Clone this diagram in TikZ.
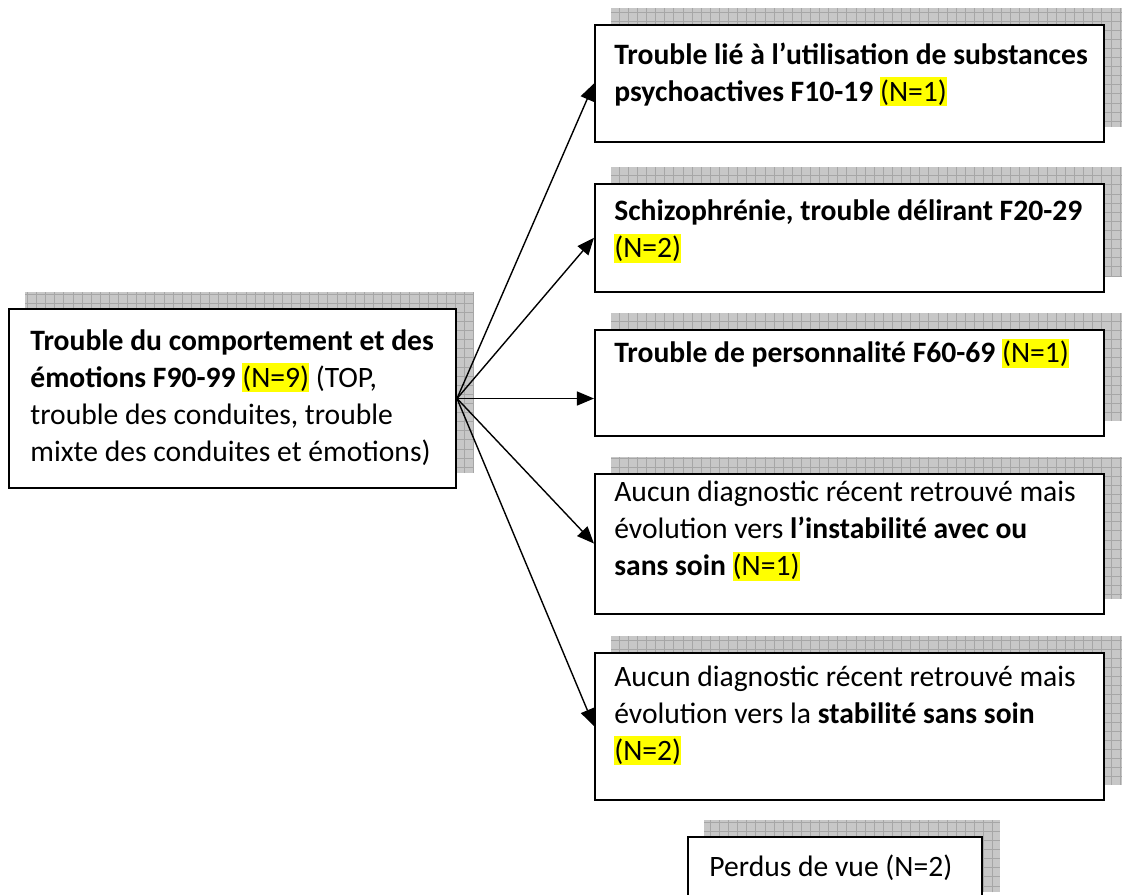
\documentclass[tikz,border=0pt]{standalone}
\usepackage{fontspec}
\setmainfont{Carlito}
\usepackage{xcolor}
\definecolor{marker}{RGB}{255,255,0}
\usepackage{tikz}
\usetikzlibrary{positioning,arrows.meta,backgrounds}
\newcommand{\hlite}[1]{{\setlength{\fboxsep}{0pt}\colorbox{marker}{\rule[-2.5pt]{0pt}{14.5pt}#1}}}

\begin{document}
\begin{tikzpicture}[
  font=\fontsize{14.8}{18.5}\selectfont,
  box/.style={draw, fill=white, line width=1pt, inner sep=0pt,
              minimum width=8.945cm},
  txt/.style={anchor=base west, align=left, inner sep=0pt},
  shade/.style={fill=black!22},
  shadegrid/.style={draw=black!35, line width=0.3pt},
  arrow/.style={-{Triangle[length=8.5pt,width=7pt]}, line width=0.7pt}
]
\useasboundingbox (0,0) rectangle (19.893,15.728);

%% Starting diagnosis
\node (src) [box, anchor=north west, minimum width=7.855cm,
             minimum height=3.146cm] at (0.141,10.315) {};

%% Outcomes
\node (sub) [box, anchor=north west, minimum height=2.056cm] at (10.438,15.306) {};
\node (schizo) [box, below=0.70cm of sub, minimum height=1.898cm] {};
\node (perso) [box, below=0.63cm of schizo, minimum height=1.863cm] {};
\node (instab) [box, below=0.63cm of perso, minimum height=2.460cm] {};
\node (stab) [box, below=0.65cm of instab, minimum height=2.583cm] {};
\node (lost) [box, below=0.63cm of stab, xshift=-0.255cm,
              minimum width=5.166cm, minimum height=1.23cm] {};

%% Shadows behind the boxes
\begin{scope}[on background layer]
  \foreach \b in {src,sub,schizo,perso,instab,stab,lost} {
    \fill[shade] ([shift={(0.3,0.28)}]\b.south west) rectangle ([shift={(0.3,0.28)}]\b.north east);
    \draw[shadegrid, step=0.16] ([shift={(0.3,0.28)}]\b.south west) grid ([shift={(0.3,0.28)}]\b.north east);
  }
\end{scope}

%% Texts (placed by the baseline of their last line)
\node (src_txt) [txt] at ([shift={(0.387,-2.690)}]src.north west)
  {\textbf{Trouble du comportement et des}\\
   \textbf{émotions F90-99} \hlite{(N=9)} (TOP,\\
   trouble des conduites, trouble\\
   mixte des conduites et émotions)};
\node (sub_txt) [txt] at ([shift={(0.351,-1.355)}]sub.north west)
  {\textbf{Trouble lié à l’utilisation de substances}\\
   \textbf{psychoactives F10-19} \hlite{(N=1)}};
\node (schizo_txt) [txt] at ([shift={(0.351,-1.318)}]schizo.north west)
  {\textbf{Schizophrénie, trouble délirant F20-29}\\
   \hlite{(N=2)}};
\node (perso_txt) [txt] at ([shift={(0.351,-0.600)}]perso.north west)
  {\textbf{Trouble de personnalité F60-69} \hlite{(N=1)}};
\node (instab_txt) [txt] at ([shift={(0.351,-1.810)}]instab.north west)
  {Aucun diagnostic récent retrouvé mais\\
   évolution vers \textbf{l’instabilité avec ou}\\
   \textbf{sans soin} \hlite{(N=1)}};
\node (stab_txt) [txt] at ([shift={(0.351,-1.915)}]stab.north west)
  {Aucun diagnostic récent retrouvé mais\\
   évolution vers la \textbf{stabilité sans soin}\\
   \hlite{(N=2)}};
\node (lost_txt) [txt] at ([shift={(0.387,-0.703)}]lost.north west)
  {Perdus de vue (N=2)};

%% Arrows
\draw [arrow] (src.east) -- (sub.west);
\draw [arrow] (src.east) -- (schizo.west);
\draw [arrow] (src.east) -- (src.east -| perso.west);
\draw [arrow] (src.east) -- (instab.west);
\draw [arrow] (src.east) -- (stab.west);

\end{tikzpicture}
\end{document}
